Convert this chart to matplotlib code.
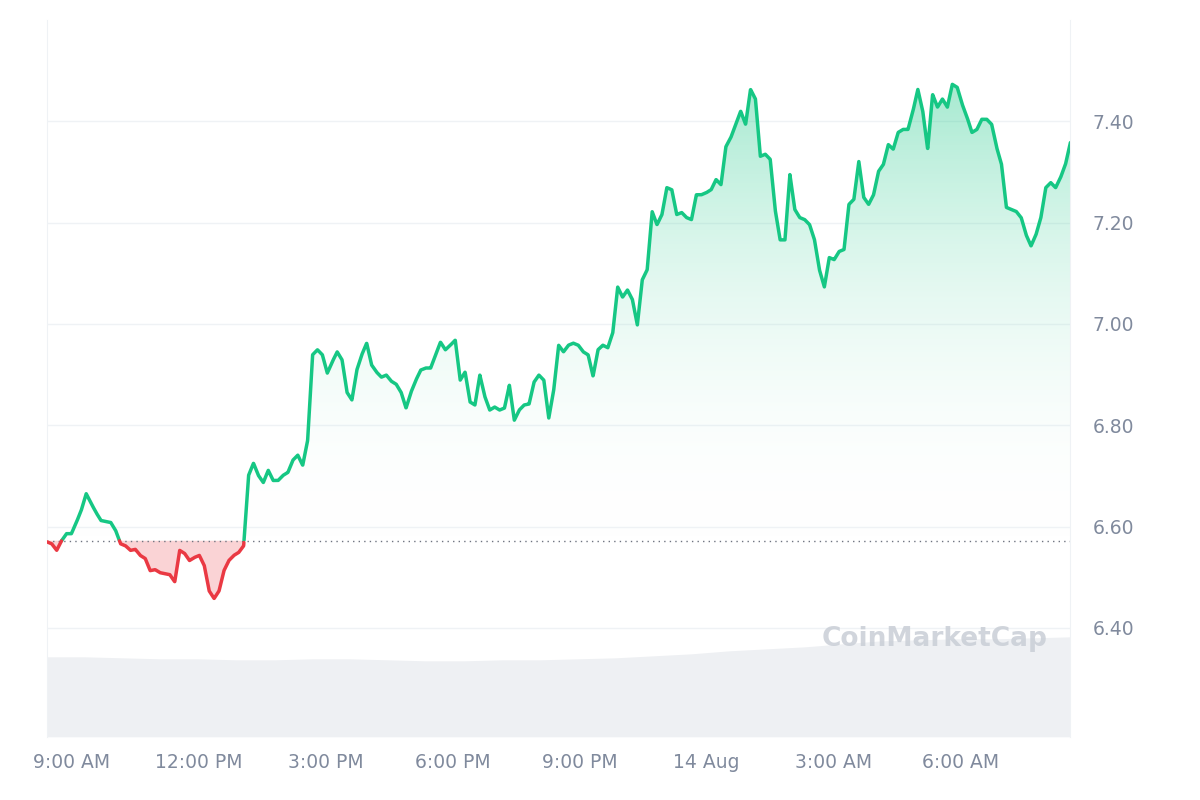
import numpy as np
import matplotlib.pyplot as plt
from matplotlib.patches import Polygon
from matplotlib.colors import LinearSegmentedColormap

# price samples (USD), evenly spaced in time over the window
prices = [
    6.570, 6.566, 6.553, 6.572, 6.586, 6.586, 6.608, 6.632, 6.665, 6.646,
    6.628, 6.612, 6.610, 6.608, 6.592, 6.566, 6.562, 6.553, 6.555, 6.543,
    6.537, 6.513, 6.515, 6.509, 6.507, 6.505, 6.491, 6.553, 6.547, 6.533,
    6.539, 6.543, 6.523, 6.473, 6.458, 6.473, 6.513, 6.533, 6.543, 6.549,
    6.562, 6.701, 6.725, 6.701, 6.687, 6.711, 6.691, 6.691, 6.701, 6.707,
    6.731, 6.741, 6.721, 6.770, 6.939, 6.949, 6.939, 6.903, 6.925, 6.945,
    6.929, 6.865, 6.850, 6.909, 6.939, 6.962, 6.919, 6.905, 6.895, 6.899,
    6.887, 6.881, 6.865, 6.834, 6.865, 6.889, 6.909, 6.913, 6.913, 6.939,
    6.964, 6.949, 6.958, 6.968, 6.889, 6.905, 6.846, 6.840, 6.899, 6.857,
    6.830, 6.836, 6.830, 6.834, 6.879, 6.810, 6.830, 6.840, 6.842, 6.885,
    6.899, 6.889, 6.814, 6.869, 6.958, 6.945, 6.958, 6.962, 6.958, 6.945,
    6.939, 6.897, 6.949, 6.958, 6.953, 6.982, 7.073, 7.053, 7.067, 7.048,
    6.998, 7.087, 7.107, 7.222, 7.196, 7.216, 7.269, 7.265, 7.216, 7.220,
    7.210, 7.206, 7.255, 7.255, 7.259, 7.265, 7.285, 7.275, 7.350, 7.368,
    7.394, 7.420, 7.394, 7.463, 7.444, 7.331, 7.335, 7.325, 7.226, 7.166,
    7.166, 7.295, 7.226, 7.210, 7.206, 7.196, 7.166, 7.107, 7.073, 7.131,
    7.127, 7.143, 7.147, 7.236, 7.246, 7.321, 7.250, 7.236, 7.255, 7.301,
    7.315, 7.354, 7.345, 7.378, 7.384, 7.384, 7.420, 7.463, 7.420, 7.345,
    7.453, 7.428, 7.444, 7.428, 7.473, 7.467, 7.434, 7.408, 7.378, 7.384,
    7.404, 7.404, 7.394, 7.349, 7.315, 7.230, 7.226, 7.222, 7.210, 7.176,
    7.154, 7.176, 7.210, 7.269, 7.279, 7.269, 7.289, 7.315, 7.358,
]
baseline = 6.572

# volume (arbitrary units), evenly spaced
volume = [80, 80, 79, 78, 78, 77, 77, 78, 78, 77, 76, 76, 77, 77, 78, 79,
          81, 83, 86, 88, 90, 93, 96, 97, 98, 98, 99, 100]

tick_hours = [9, 12, 15, 18, 21, 24, 27, 30]
tick_labels = ['9:00 AM', '12:00 PM', '3:00 PM', '6:00 PM', '9:00 PM',
               '14 Aug', '3:00 AM', '6:00 AM']

GREEN = '#16c784'
RED = '#ea3943'
GREY = '#808a9d'

t_start, t_end = 8.42, 32.6
t = np.linspace(t_start, t_end, len(prices))
p = np.array(prices)
tv = np.linspace(t_start, t_end, len(volume))

# dense resampling only for colouring the line on each side of the baseline
tf = np.linspace(t_start, t_end, 6000)
pf = np.interp(tf, t, p)

fig = plt.figure(figsize=(12, 8), dpi=100, facecolor='white')
ax = fig.add_axes([0.039, 0.079, 0.853, 0.896])
ymin, ymax = 6.185, 7.60

# volume on hidden twin axis
axv = ax.twinx()
axv.fill_between(tv, 0, volume, color='#eef0f3', lw=0, zorder=0)
axv.set_ylim(0, 717)
axv.axis('off')
ax.set_zorder(axv.get_zorder() + 1)
ax.patch.set_visible(False)

# green gradient fill above baseline
grad = np.linspace(0, 1, 256).reshape(-1, 1)
cmap = LinearSegmentedColormap.from_list('g', [(1, 1, 1, 0), (0.086, 0.78, 0.52, 0.38)])
img = ax.imshow(grad, extent=[t_start, t_end, baseline, p.max()], origin='lower',
                aspect='auto', cmap=cmap, zorder=1)
upper = np.maximum(pf, baseline)
verts = np.column_stack([np.r_[tf, tf[::-1]], np.r_[upper, np.full_like(tf, baseline)]])
clip = Polygon(verts, closed=True, transform=ax.transData, facecolor='none', edgecolor='none')
ax.add_patch(clip)
img.set_clip_path(clip)
ax.fill_between(tf, baseline, pf, where=pf <= baseline, interpolate=True,
                color=RED, alpha=0.22, lw=0, zorder=1)

# line coloured by side of baseline
above = np.where(pf >= baseline, pf, np.nan)
below = np.where(pf <= baseline, pf, np.nan)
ax.plot(tf, above, color=GREEN, lw=2.5, zorder=3, solid_capstyle='round')
ax.plot(tf, below, color=RED, lw=2.5, zorder=3, solid_capstyle='round')
ax.axhline(baseline, color='#6f7480', lw=1, ls=(0, (1, 3)), zorder=2)

for v in np.arange(6.4, 7.5, 0.2):
    ax.axhline(v, color='#eff2f5', lw=1, zorder=0)

ax.set_xlim(t_start, t_end)
ax.set_ylim(ymin, ymax)
ax.set_xticks(tick_hours)
ax.set_xticklabels(tick_labels)
ax.set_yticks(np.round(np.arange(6.4, 7.5, 0.2), 2))
ax.yaxis.set_major_formatter(plt.FuncFormatter(lambda v, _: f'{v:.2f}'))
ax.yaxis.tick_right()
ax.tick_params(axis='both', length=0, labelsize=13.5, colors=GREY, pad=12)
ax.tick_params(axis='y', pad=16)
for side in ['top', 'bottom']:
    ax.spines[side].set_visible(False)
for side in ['left', 'right']:
    ax.spines[side].set_color('#eff2f5')

ax.text(0.757, 0.137, 'CoinMarketCap', transform=ax.transAxes, fontsize=19,
        color='#c9ced6', fontweight='bold', va='center', zorder=4, alpha=0.85)

fig.savefig('out.png', dpi=100, facecolor='white')
